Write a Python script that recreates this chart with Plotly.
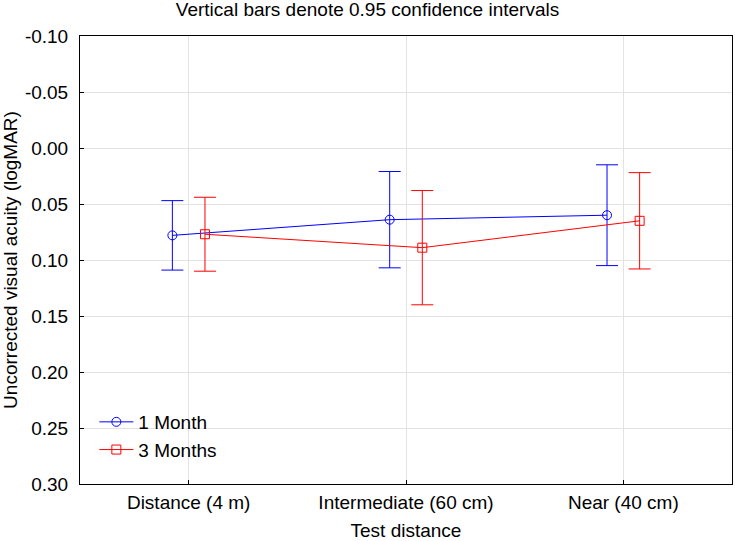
import plotly.graph_objects as go

categories = ["Distance (4 m)", "Intermediate (60 cm)", "Near (40 cm)"]
series_names = ["1 Month", "3 Months"]
month1_mean = [0.078, 0.064, 0.060]
month1_low = [0.047, 0.021, 0.015]
month1_high = [0.109, 0.107, 0.105]
month3_mean = [0.077, 0.089, 0.065]
month3_low = [0.044, 0.038, 0.022]
month3_high = [0.110, 0.140, 0.108]
y_tick_vals = [-0.10, -0.05, 0.00, 0.05, 0.10, 0.15, 0.20, 0.25, 0.30]
y_tick_text = ["-0.10", "-0.05", "0.00", "0.05", "0.10", "0.15", "0.20", "0.25", "0.30"]

FONT = "Liberation Sans, Arial, sans-serif"
FS = 19

def trace(name, mean, low, high, color, symbol):
    return go.Scatter(
        x=categories, y=mean, name=name, mode="lines+markers",
        line=dict(color=color, width=1),
        marker=dict(symbol=symbol, size=9, color=color, line=dict(color=color, width=1)),
        error_y=dict(type="data", symmetric=False,
                     array=[h - m for h, m in zip(high, mean)],
                     arrayminus=[m - l for m, l in zip(mean, low)],
                     color=color, thickness=1, width=11),
    )

fig = go.Figure()
fig.add_trace(trace(series_names[0], month1_mean, month1_low, month1_high, "#0000ff", "circle-open"))
fig.add_trace(trace(series_names[1], month3_mean, month3_low, month3_high, "#ff0000", "square-open"))

fig.update_layout(
    width=735, height=541,
    margin=dict(l=80, r=3, t=36, b=57, autoexpand=False),
    paper_bgcolor="white", plot_bgcolor="white",
    font=dict(family=FONT, color="black", size=FS),
    scattermode="group", scattergap=0.7,
    title=dict(text="Vertical bars denote 0.95 confidence intervals", x=0.5, xref="container",
               xanchor="center", y=1 - 9 / 541, yanchor="middle", font=dict(size=FS)),
    legend=dict(x=0.022, y=(484 - 403) / 448, xanchor="left", yanchor="top",
                bgcolor="rgba(0,0,0,0)", font=dict(size=FS), tracegroupgap=0,
                itemwidth=34),
    showlegend=True,
)
fig.update_xaxes(
    type="category", range=[-0.5, 2.5], automargin=False,
    showline=True, linecolor="black", linewidth=1, mirror=True,
    showgrid=True, gridcolor="#e3e3e3", gridwidth=1,
    ticks="inside", ticklen=4, tickcolor="black", ticklabelstandoff=1,
    tickfont=dict(size=FS),
    title=dict(text="Test distance", font=dict(size=FS), standoff=14),
)
fig.update_yaxes(
    range=[0.30, -0.10], tickvals=y_tick_vals, ticktext=y_tick_text, automargin=False,
    showline=True, linecolor="black", linewidth=1, mirror=True,
    showgrid=True, gridcolor="#e3e3e3", gridwidth=1, zeroline=False,
    ticks="inside", ticklen=4, tickcolor="black", ticklabelstandoff=7,
    tickfont=dict(size=FS),
    title=dict(text="Uncorrected visual acuity (logMAR)", font=dict(size=FS), standoff=13),
)

fig.write_html("out.html", config={"displayModeBar": False},
               post_script="document.body.style.margin='0';")
